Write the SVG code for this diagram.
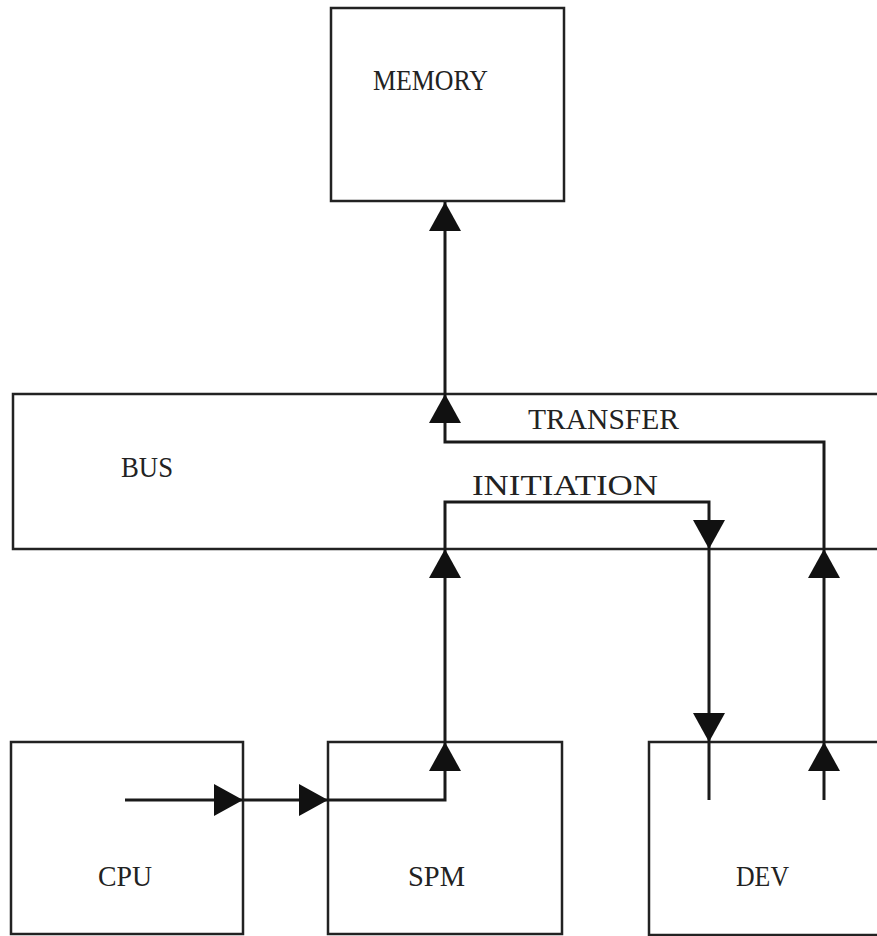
<svg xmlns="http://www.w3.org/2000/svg" xmlns:xlink="http://www.w3.org/1999/xlink" width="877" height="936" viewBox="0 0 877 936">
<style>
.box{fill:none;stroke:#222;stroke-width:2.5}
.wire{fill:none;stroke:#1a1a1a;stroke-width:3}
.lbl{font-family:"Liberation Serif","DejaVu Serif",serif;font-size:30px;fill:#222}
.head{fill:#111}
</style>
<defs>
<path id="tri" class="head" d="M0,0 L-16,29 L16,29 Z"/>
</defs>
<rect width="877" height="936" fill="#fff"/>
<g id="memory">
<rect class="box" x="331" y="8" width="233" height="193"/>
<text class="lbl" x="373" y="90" textLength="115" lengthAdjust="spacingAndGlyphs">MEMORY</text>
</g>
<g id="bus">
<rect class="box" x="13" y="394" width="890" height="155"/>
<text class="lbl" x="121" y="477" textLength="52" lengthAdjust="spacingAndGlyphs">BUS</text>
</g>
<g id="cpu">
<rect class="box" x="11" y="742" width="232" height="192"/>
<text class="lbl" x="98" y="886" textLength="54" lengthAdjust="spacingAndGlyphs">CPU</text>
</g>
<g id="spm">
<rect class="box" x="328" y="742" width="234" height="192"/>
<text class="lbl" x="408" y="886" textLength="57" lengthAdjust="spacingAndGlyphs">SPM</text>
</g>
<g id="dev">
<rect class="box" x="649" y="742" width="260" height="193"/>
<text class="lbl" x="736" y="886" textLength="53" lengthAdjust="spacingAndGlyphs">DEV</text>
</g>
<g id="connectors">
<polyline class="wire" points="824,800 824,442 445,442 445,202"/>
<polyline class="wire" points="125,800 445,800 445,502 709,502 709,800"/>
<text class="lbl" x="528" y="429" textLength="151" lengthAdjust="spacingAndGlyphs">TRANSFER</text>
<text class="lbl" x="472" y="495" textLength="186" lengthAdjust="spacingAndGlyphs">INITIATION</text>
<use xlink:href="#tri" transform="translate(445,202)"/>
<use xlink:href="#tri" transform="translate(445,394)"/>
<use xlink:href="#tri" transform="translate(445,549)"/>
<use xlink:href="#tri" transform="translate(709,549) rotate(180)"/>
<use xlink:href="#tri" transform="translate(824,549)"/>
<use xlink:href="#tri" transform="translate(243,800) rotate(90)"/>
<use xlink:href="#tri" transform="translate(328,800) rotate(90)"/>
<use xlink:href="#tri" transform="translate(445,742)"/>
<use xlink:href="#tri" transform="translate(709,742) rotate(180)"/>
<use xlink:href="#tri" transform="translate(824,742)"/>
</g>
</svg>
